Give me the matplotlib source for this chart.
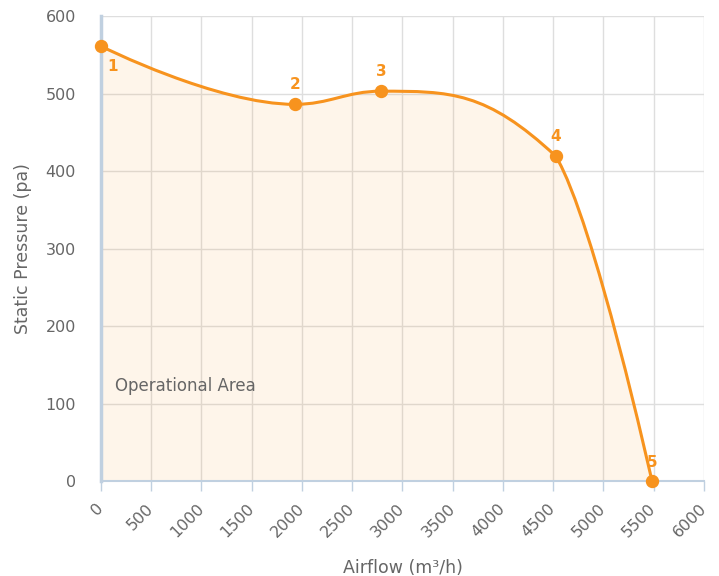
import numpy as np
import matplotlib.pyplot as plt
from matplotlib.path import Path
from matplotlib.patches import PathPatch

# Fan curve
airflow = [0, 1930, 2786, 4527, 5483]
pressure = [561, 486, 503, 419, 0]
point_labels = ["1", "2", "3", "4", "5"]

x_ticks = [0, 500, 1000, 1500, 2000, 2500, 3000, 3500, 4000, 4500, 5000, 5500, 6000]
y_ticks = [0, 100, 200, 300, 400, 500, 600]

# label offsets in points (styling only)
label_offsets = [(8.6, -14.4), (0, 14.4), (0, 14.4), (0, 14.4), (0, 13)]

ORANGE = "#f7931e"
GREY = "#666666"


def spline_path(xs, ys, smoothing=1.5):
    # highcharts-like spline: bezier control points from neighbours
    n = len(xs)
    left = [None] * n
    right = [None] * n
    denom = smoothing + 1
    for i in range(1, n - 1):
        lx, ly = xs[i - 1], ys[i - 1]
        px, py = xs[i], ys[i]
        nx, ny = xs[i + 1], ys[i + 1]
        lcx = (smoothing * px + lx) / denom
        lcy = (smoothing * py + ly) / denom
        rcx = (smoothing * px + nx) / denom
        rcy = (smoothing * py + ny) / denom
        corr = (rcy - lcy) * (rcx - px) / (rcx - lcx) + py - rcy
        lcy += corr
        rcy += corr
        if lcy > ly and lcy > py:
            lcy = max(ly, py)
            rcy = 2 * py - lcy
        elif lcy < ly and lcy < py:
            lcy = min(ly, py)
            rcy = 2 * py - lcy
        if rcy > ny and rcy > py:
            rcy = max(ny, py)
            lcy = 2 * py - rcy
        elif rcy < ny and rcy < py:
            rcy = min(ny, py)
            lcy = 2 * py - rcy
        left[i] = (lcx, lcy)
        right[i] = (rcx, rcy)
    verts = [(xs[0], ys[0])]
    codes = [Path.MOVETO]
    for i in range(1, n):
        c1 = right[i - 1] if right[i - 1] else (xs[i - 1], ys[i - 1])
        c2 = left[i] if left[i] else (xs[i], ys[i])
        verts += [c1, c2, (xs[i], ys[i])]
        codes += [Path.CURVE4] * 3
    return verts, codes


fig = plt.figure(figsize=(7.19, 5.76), dpi=100)
ax = fig.add_axes([0.1405, 0.1649, 0.8385, 0.8073])

ax.set_xlim(0, 6000)
ax.set_ylim(0, 600)
ax.set_xticks(x_ticks)
ax.set_yticks(y_ticks)
ax.grid(True, color="#dedede", linewidth=1)
ax.set_axisbelow(True)

verts, codes = spline_path(airflow, pressure)

# fill area under curve
fill_verts = verts + [(airflow[-1], 0), (airflow[0], 0), verts[0]]
fill_codes = codes + [Path.LINETO, Path.LINETO, Path.CLOSEPOLY]
ax.add_patch(PathPatch(Path(fill_verts, fill_codes), facecolor=ORANGE,
                       alpha=0.09, edgecolor="none", zorder=2))
ax.add_patch(PathPatch(Path(verts, codes), facecolor="none", edgecolor=ORANGE,
                       linewidth=2.2, zorder=3, capstyle="round"))

ax.plot(airflow, pressure, "o", color=ORANGE, markersize=8.6, zorder=4, clip_on=False)

for x, y, lab, off in zip(airflow, pressure, point_labels, label_offsets):
    ax.annotate(lab, (x, y), xytext=off, textcoords="offset points",
                ha="center", va="center", color=ORANGE, fontsize=11,
                fontweight="bold", zorder=5)

ax.text(135, 123, "Operational Area", color=GREY, fontsize=12, ha="left",
        va="center", zorder=5)

for side in ["top", "right"]:
    ax.spines[side].set_visible(False)
ax.spines["left"].set_color("#c0d0e0")
ax.spines["left"].set_linewidth(2.5)
ax.spines["bottom"].set_color("#c0d0e0")
ax.spines["bottom"].set_linewidth(1.5)

ax.tick_params(axis="y", length=0, pad=18, labelsize=11.5, labelcolor=GREY)
ax.tick_params(axis="x", length=7, width=1, color="#c0d0e0", pad=11,
               labelsize=11.5, labelcolor=GREY)
for lbl in ax.get_xticklabels():
    lbl.set_rotation(45)
    lbl.set_ha("right")
    lbl.set_va("center")
    lbl.set_rotation_mode("anchor")

ax.set_xlabel("Airflow (m³/h)", color=GREY, fontsize=12.5, labelpad=14)
ax.set_ylabel("Static Pressure (pa)", color=GREY, fontsize=12.5, labelpad=10)

fig.savefig("out.png", dpi=100)
